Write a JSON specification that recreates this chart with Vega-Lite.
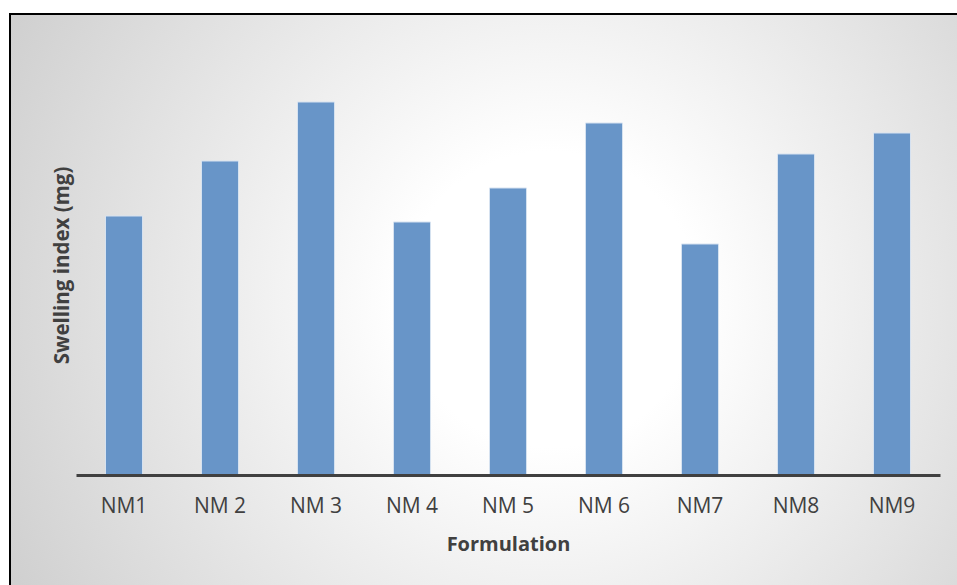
{
  "$schema": "https://vega.github.io/schema/vega-lite/v6.json",
  "autosize": {"type": "none"},
  "padding": {"left": 10, "top": 14, "right": 0, "bottom": 0},
  "width": 947,
  "height": 571,
  "background": "#ffffff",
  "config": {
    "view": {
      "fill": {
        "gradient": "radial",
        "x1": 0.57, "y1": 0.5, "r1": 0,
        "x2": 0.57, "y2": 0.5, "r2": 0.78,
        "stops": [
          {"offset": 0, "color": "#ffffff"},
          {"offset": 0.2, "color": "#ffffff"},
          {"offset": 1, "color": "#c2c2c2"}
        ]
      },
      "stroke": "#000000",
      "strokeWidth": 2,
      "strokeDash": [947, 1518, 571]
    },
    "axis": {"grid": false}
  },
  "data": {
    "values": [
      {"formulation": "NM1", "swelling": 259},
      {"formulation": "NM 2", "swelling": 314},
      {"formulation": "NM 3", "swelling": 373},
      {"formulation": "NM 4", "swelling": 253},
      {"formulation": "NM 5", "swelling": 287},
      {"formulation": "NM 6", "swelling": 352},
      {"formulation": "NM7", "swelling": 231},
      {"formulation": "NM8", "swelling": 321},
      {"formulation": "NM9", "swelling": 342}
    ]
  },
  "mark": {"type": "bar", "color": "#6895c8", "stroke": "#d6e2f0", "strokeWidth": 1},
  "encoding": {
    "x": {
      "field": "formulation",
      "type": "nominal",
      "sort": null,
      "scale": {"range": [66, 930], "paddingInner": 0.6146, "paddingOuter": 0.3073},
      "axis": {
        "orient": "bottom",
        "offset": -110,
        "zindex": 1,
        "domainColor": "#404040",
        "domainWidth": 3,
        "ticks": false,
        "tickSize": 0,
        "labelAngle": 0,
        "labelPadding": 20,
        "labelFont": "Open Sans",
        "labelFontSize": 21,
        "labelColor": "#404040",
        "title": "Formulation",
        "titleFont": "Open Sans",
        "titleFontSize": 20,
        "titleFontWeight": "bold",
        "titleColor": "#404040",
        "titlePadding": 18
      }
    },
    "y": {
      "field": "swelling",
      "type": "quantitative",
      "scale": {"domain": [0, 420], "range": [461, 41], "nice": false},
      "axis": {
        "orient": "left",
        "offset": -62,
        "domain": false,
        "ticks": false,
        "labels": false,
        "title": "Swelling index (mg)",
        "titleFont": "Open Sans",
        "titleFontSize": 20.5,
        "titleFontWeight": "bold",
        "titleColor": "#404040",
        "titlePadding": 0
      }
    }
  }
}
